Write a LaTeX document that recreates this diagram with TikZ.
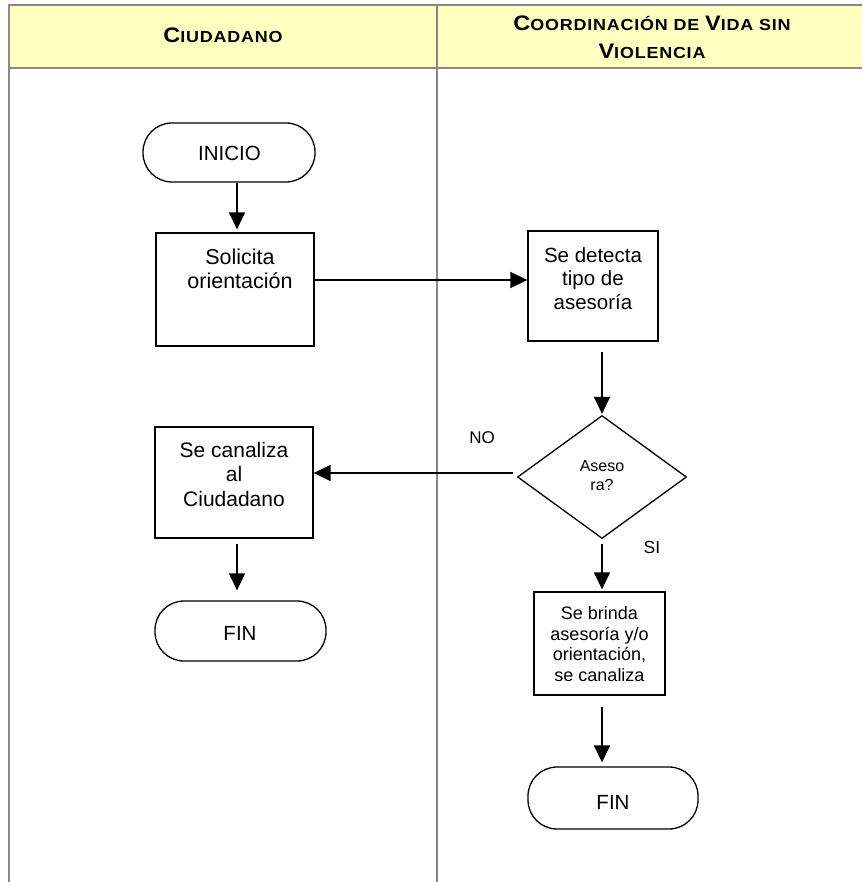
\documentclass[tikz,border=0pt]{standalone}
\usepackage{fontspec}
\setmainfont{Liberation Sans}
\newfontfamily\hdrfont{Liberation Sans}[LetterSpace=5,FakeStretch=1.12]
\usetikzlibrary{shapes.geometric,arrows.meta}
\definecolor{hdryellow}{HTML}{FFFFC0}
\definecolor{gridgray}{HTML}{888888}
\newcommand\fs[2]{\fontsize{#1}{#2}\selectfont}
\newcommand\hsc[2]{{\fontsize{21}{28}\selectfont #1}{\fontsize{16}{28}\selectfont #2}}
\begin{document}
\begin{tikzpicture}[x=1pt,y=-1pt,
  grid/.style={draw=gridgray,line width=2pt},
  proc/.style={draw,line width=1.3pt,rectangle,inner sep=0pt},
  term/.style={draw,line width=1.3pt,rectangle,rounded corners=29pt,inner sep=0pt},
  dec/.style={draw,line width=1.3pt,diamond,inner sep=0pt},
  txt/.style={anchor=base,inner sep=0pt},
  arr/.style={line width=1.5pt,-{Triangle[length=17pt,width=16pt]}}]
\useasboundingbox (0,0) rectangle (862,882);
% header
\fill[hdryellow] (9,5) rectangle (862,68);
\draw[grid] (9,882) -- (9,5) -- (862,5);
\draw[grid] (9,68) -- (862,68);
\draw[grid] (437,5) -- (437,882);
\node[txt] (hCiud) at (223,43) {\hdrfont\bfseries\hsc{C}{IUDADANO}};
\node[txt] (hCoord) at (652,31) {\hdrfont\bfseries\fs{16}{28}\begin{tabular}[t]{@{}c@{}}\hsc{C}{OORDINACIÓN DE }\hsc{V}{IDA SIN}\\\hsc{V}{IOLENCIA}\end{tabular}};
% shapes
\node[term,minimum width=172pt,minimum height=59pt] (inicio) at (229,152.5) {};
\node[proc,minimum width=158pt,minimum height=113pt] (solicita) at (235,289.5) {};
\node[proc,minimum width=130pt,minimum height=110pt] (detecta) at (593,286) {};
\node[dec,minimum width=169pt,minimum height=123pt] (decide) at (602,477) {};
\node[proc,minimum width=158pt,minimum height=111pt] (canaliza) at (234,482.5) {};
\node[term,minimum width=171pt,minimum height=60pt] (finL) at (240.5,631) {};
\node[proc,minimum width=131pt,minimum height=103pt] (brinda) at (599.5,643.5) {};
\node[term,minimum width=170pt,minimum height=62pt] (finR) at (613,798) {};
% texts
\node[txt] (tInicio) at (229.5,160.5) {\fs{20.5}{24}INICIO};
\node[txt] (tSolicita) at (240,265) {\fs{21.5}{24}\begin{tabular}[t]{@{}c@{}}Solicita\\orientación\end{tabular}};
\node[txt] (tDetecta) at (593,262) {\fs{20.5}{23.5}\begin{tabular}[t]{@{}c@{}}Se detecta\\tipo de\\asesoría\end{tabular}};
\node[txt] (tDecide) at (602,471.5) {\fs{16}{18.5}\begin{tabular}[t]{@{}c@{}}Aseso\\ra?\end{tabular}};
\node[txt] (tCanaliza) at (234,457) {\fs{21}{24.5}\begin{tabular}[t]{@{}c@{}}Se canaliza\\al\\Ciudadano\end{tabular}};
\node[txt] (tFinL) at (240,640) {\fs{20.5}{24}FIN};
\node[txt] (tBrinda) at (599.5,619.5) {\fs{18}{20.5}\begin{tabular}[t]{@{}c@{}}Se brinda\\asesoría y/o\\orientación,\\se canaliza\end{tabular}};
\node[txt] (tFinR) at (613,809) {\fs{20.5}{24}FIN};
\node[txt] (lNo) at (482,443) {\fs{17}{20}NO};
\node[txt] (lSi) at (652,553) {\fs{17.5}{20}SI};
% connectors
\draw[arr,shorten >=3pt] ([xshift=2pt]solicita.north |- inicio.south) -- ([xshift=2pt]solicita.north);
\draw[arr] ([yshift=9.5pt]solicita.east) -- ([yshift=9.5pt]solicita.east -| detecta.west);
\draw[arr,shorten <=10pt,shorten >=1pt] (decide.north |- detecta.south) -- (decide.north);
\draw[arr] ([xshift=-4pt,yshift=4pt]decide.west) -- ([yshift=4pt]decide.west -| canaliza.east);
\draw[arr,shorten <=5pt,shorten >=10pt] ([xshift=3pt]canaliza.south) -- ([xshift=3pt]canaliza.south |- finL.north);
\draw[arr,shorten <=5pt,shorten >=2pt] (decide.south) -- (decide.south |- brinda.north);
\draw[arr,shorten <=11pt,shorten >=4pt] (decide.south |- brinda.south) -- (decide.south |- finR.north);
\end{tikzpicture}
\end{document}
